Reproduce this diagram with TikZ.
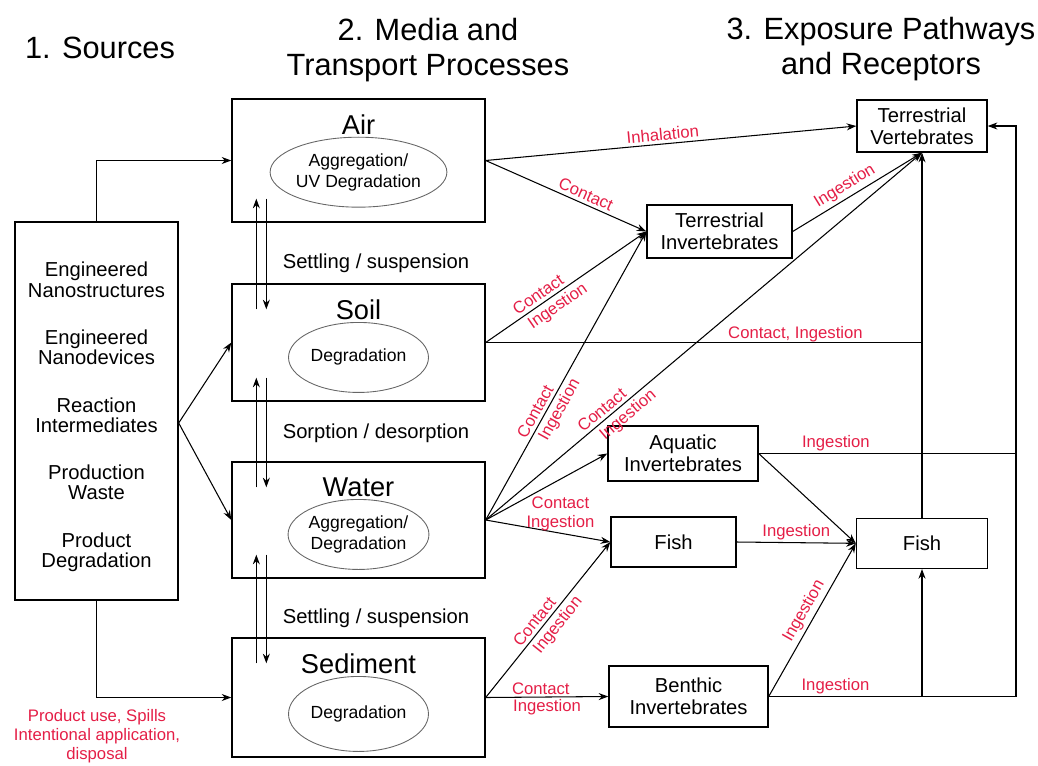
\documentclass[tikz,border=0pt]{standalone}
\usepackage{fontspec}
\setmainfont{Liberation Sans}
\usetikzlibrary{arrows.meta,shapes,positioning}
\definecolor{pathred}{RGB}{228,30,70}
\tikzset{
  %Define standard arrow tip
    >={Stealth[length=5.5pt,width=4pt]},
  %define style for media boxes
  medium/.style={
    rectangle,
    draw=black, line width=0.8pt,
    minimum width=5.06cm,
    inner sep=0pt},
  %define style for receptor boxes
  receptor/.style={
    rectangle,
    draw=black, line width=0.8pt,
    align=center,
    inner sep=0pt,
    font=\fontsize{11.5}{12.5}\selectfont},
  process/.style={
    ellipse,
    draw=black!60, line width=0.5pt,
    align=center,
    inner sep=0pt,
    minimum width=2.8cm,
    minimum height=1.4cm,
    font=\fontsize{10}{12}\selectfont},
  heading/.style={align=center, font=\fontsize{17.5}{20}\selectfont},
  medtitle/.style={inner sep=0pt, font=\fontsize{15.5}{17}\selectfont},
  transfer/.style={font=\fontsize{11.5}{13}\selectfont},
  %define style for red labels
  pathlbl/.style={
    text=pathred,
    inner sep=1pt,
    align=center,
    font=\fontsize{9.5}{11}\selectfont},
  slopelbl/.style={pathlbl, sloped, inner sep=1.8pt},
  %define style for arrows
  myarrow/.style={->, line width=0.6pt},
  myline/.style={line width=0.6pt}
}

\begin{document}
\begin{tikzpicture}[x=0.02cm, y=-0.02cm]
\useasboundingbox (0,0) rectangle (1038,765);
%headings
\node[heading] (h1) at (100,48) {1. Sources};
\node[heading] (h2) at (428,50) {2. Media and\\Transport Processes};
\node[heading] (h3) at (881,49) {3. Exposure Pathways\\and Receptors};

%sources
\node[receptor, minimum width=3.26cm, minimum height=7.56cm] (src) at (96.5,411) {};
\node[align=center, font=\fontsize{11.5}{11.5}\selectfont] (srctext) at (96.5,417)
     {Engineered\\Nanostructures\\[15.5pt]Engineered\\Nanodevices\\[15.5pt]Reaction\\Intermediates\\[15.5pt]Production\\Waste\\[15.5pt]Product\\Degradation};
\node[pathlbl] (use) at (97,736) {Product use, Spills\\Intentional application,\\disposal};

%media
\node[medium, minimum height=2.46cm] (air) at (358.5,160.5) {};
\node[medium, minimum height=2.34cm] (soil) at (358.5,342.5) {};
\node[medium, minimum height=2.32cm] (water) at (358.5,520) {};
\node[medium, minimum height=2.38cm] (sed) at (358.5,697.5) {};

\node[medtitle, below=0.32cm of air.north] (airt) {Air};
\node[medtitle, below=0.32cm of soil.north] (soilt) {Soil};
\node[medtitle, below=0.32cm of water.north] (watert) {Water};
\node[medtitle, below=0.32cm of sed.north] (sedt) {Sediment};

\node[process, minimum width=3.32cm, below=0.04cm of airt] (airp) {Aggregation/\\UV Degradation};
\node[process, below=0.04cm of soilt] (soilp) {Degradation};
\node[process, below=0.04cm of watert] (waterp) {Aggregation/\\Degradation};
\node[process, minimum height=1.5cm, below=0.04cm of sedt] (sedp) {Degradation};

\node[transfer] (tr1) at (376,263) {Settling / suspension};
\node[transfer] (tr2) at (376,433) {Sorption / desorption};
\node[transfer] (tr3) at (376,618) {Settling / suspension};

%receptors
\node[receptor, minimum width=2.6cm, minimum height=1.04cm] (tvert) at (922,126) {Terrestrial\\Vertebrates};
\node[receptor, minimum width=2.9cm, minimum height=1.06cm] (tinv) at (719.5,231.5) {Terrestrial\\Invertebrates};
\node[receptor, minimum width=3.0cm, minimum height=1.1cm] (ainv) at (683,453.5) {Aquatic\\Invertebrates};
\node[receptor, minimum width=2.5cm, minimum height=1.0cm] (fishm) at (673.5,542) {Fish};
\node[receptor, minimum width=3.18cm, minimum height=1.22cm] (benth) at (688.5,696.5) {Benthic\\Invertebrates};
\node[receptor, minimum width=2.62cm, minimum height=1.0cm, below=7.3cm of tvert] (fishr) {Fish};
\coordinate (rcorner) at (1016,696.5);

%exchange between media
\foreach \upper/\lower in {air/soil, soil/water, water/sed}{
  \draw[myarrow] ([shift={(25,26)}]\lower.north west) -- ([shift={(25,-24)}]\upper.south west);
  \draw[myarrow] ([shift={(35,-24)}]\upper.south west) -- ([shift={(35,26)}]\lower.north west);
}

%sources to media
\draw[myarrow] (src.north) |- (air.west);
\draw[myarrow] ([shift={(0,12)}]src.east) -- (soil.west);
\draw[myarrow] ([shift={(0,12)}]src.east) -- (water.west);
\draw[myarrow] (src.south) |- (sed.west);

%air
\draw[myarrow] (air.east) -- node[slopelbl, above, pos=0.48] {Inhalation} (tvert.west);
\draw[myarrow] (air.east) -- node[slopelbl, above, pos=0.6] {Contact} (tinv.west);

%soil
\draw[myarrow] (soil.east) -- node[slopelbl, above, pos=0.36] {Contact}
                              node[slopelbl, below, pos=0.41] {Ingestion} (tinv.west);
\draw[myline] (soil.east) -- node[pathlbl, above, pos=0.71, inner sep=0pt] {Contact, Ingestion} (soil.east -| fishr.north);

%water
\draw[myarrow] (water.east) -- node[slopelbl, above, pos=0.36] {Contact}
                               node[slopelbl, below, pos=0.40] {Ingestion} (tinv.west);
\draw[myarrow] (water.east) -- node[slopelbl, above, pos=0.28] {Contact}
                               node[slopelbl, below, pos=0.31] {Ingestion} (tvert.south);
\draw[myarrow] (water.east) -- (ainv.west);
\draw[myarrow] (water.east) -- node[pathlbl, above, pos=0.6] {Contact\\Ingestion} (fishm.west);

%sediment
\draw[myarrow] (sed.east) -- node[slopelbl, above, pos=0.45] {Contact}
                             node[slopelbl, below, pos=0.51] {Ingestion} (fishm.west);
\draw[myarrow] (sed.east) -- node[pathlbl, above, pos=0.45] {Contact}
                             node[pathlbl, below, pos=0.5] {Ingestion} (benth.west);

%between receptors
\draw[myarrow] (tinv.east) -- node[slopelbl, above, pos=0.45] {Ingestion} (tvert.south);
\draw[myarrow] (fishr.north) -- (tvert.south);
\draw[myarrow] (benth.east) -- node[pathlbl, above, pos=0.27] {Ingestion} (rcorner) |- (tvert.east);
\draw[myline] (ainv.east) -- node[pathlbl, above, pos=0.3] {Ingestion} (ainv.east -| rcorner);
\draw[myarrow] (ainv.east) -- (fishr.west);
\draw[myarrow] (fishm.east) -- node[pathlbl, above] {Ingestion} (fishr.west);
\draw[myarrow] (benth.east) -- node[slopelbl, above, pos=0.52] {Ingestion} (fishr.west);
\draw[myarrow] (fishr.south |- benth.east) -- (fishr.south);

\end{tikzpicture}
\end{document}
